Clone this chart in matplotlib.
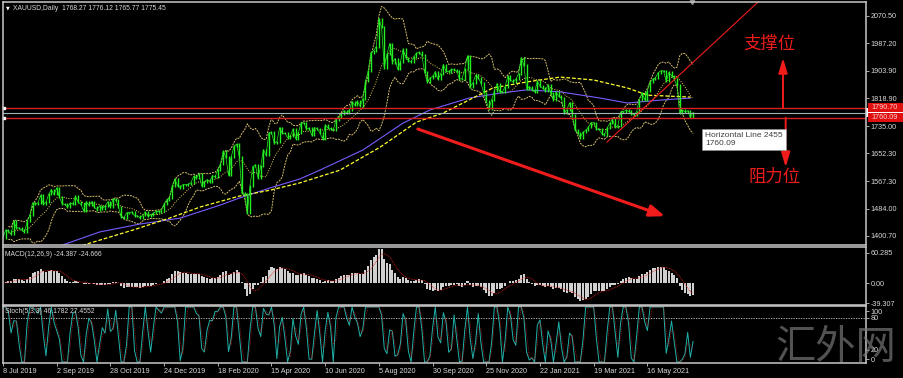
import matplotlib
matplotlib.use('Agg')
import matplotlib.pyplot as plt
from matplotlib.patches import Rectangle
import numpy as np
import pandas as pd

plt.rcParams['font.family'] = ['Liberation Sans', 'DejaVu Sans']

W, H = 904, 378
X0, X1 = 3, 866          # plot area left/right in pixels
BAR_PX = 1.3425          # pixels per daily bar
STEP = 2                 # bars between two samples

# closes, one every two daily bars, 8 Jul 2019 .. 1 Jul 2021
closes = [
    1396, 1419, 1415, 1406, 1445, 1425, 1425, 1419, 1412, 1445, 1464, 1502, 1497, 1502, 1524, 1497, 1503, 1527, 1542, 1527,
    1547, 1519, 1499, 1497, 1488, 1501, 1498, 1522, 1504, 1497, 1478, 1505, 1494, 1505, 1488, 1481, 1493, 1484, 1492, 1504,
    1488, 1513, 1510, 1490, 1459, 1456, 1471, 1472, 1474, 1462, 1462, 1456, 1463, 1474, 1460, 1465, 1470, 1476, 1475, 1478,
    1499, 1511, 1517, 1552, 1574, 1553, 1548, 1557, 1557, 1558, 1563, 1582, 1577, 1589, 1553, 1566, 1572, 1566, 1584, 1581,
    1602, 1620, 1658, 1641, 1585, 1641, 1673, 1680, 1642, 1530, 1528, 1471, 1554, 1612, 1617, 1577, 1614, 1663, 1646, 1714,
    1716, 1683, 1687, 1730, 1713, 1713, 1700, 1705, 1725, 1697, 1715, 1743, 1745, 1726, 1728, 1707, 1730, 1727, 1714, 1697,
    1738, 1730, 1727, 1722, 1754, 1761, 1771, 1781, 1775, 1783, 1809, 1798, 1810, 1796, 1817, 1871, 1902, 1958, 1964, 1976,
    2062, 2035, 1912, 1953, 1986, 1928, 1940, 1908, 1929, 1968, 1943, 1934, 1931, 1946, 1956, 1959, 1950, 1900, 1868, 1881,
    1886, 1900, 1877, 1893, 1922, 1902, 1900, 1907, 1905, 1902, 1878, 1879, 1910, 1949, 1854, 1866, 1889, 1882, 1866, 1837,
    1810, 1788, 1815, 1841, 1864, 1839, 1839, 1855, 1886, 1874, 1870, 1877, 1894, 1943, 1920, 1849, 1855, 1846, 1839, 1871,
    1856, 1850, 1843, 1860, 1835, 1814, 1838, 1825, 1820, 1775, 1784, 1806, 1770, 1724, 1715, 1700, 1716, 1722, 1731, 1745,
    1745, 1726, 1725, 1712, 1708, 1729, 1743, 1756, 1732, 1736, 1777, 1779, 1783, 1780, 1773, 1769, 1779, 1815, 1836, 1815,
    1843, 1868, 1877, 1882, 1897, 1903, 1903, 1871, 1898, 1888, 1877, 1859, 1774, 1783, 1779, 1781, 1761, 1776,
]

# long moving averages (bar index, price)
ma_slow_bars = [40, 72, 102, 132, 162, 176, 199, 221, 236, 268, 298, 318, 347, 370, 390, 415, 445, 465, 490, 512]
ma_slow_vals = [1367, 1413, 1437, 1455, 1495, 1516, 1547, 1574, 1601, 1662, 1744, 1784, 1820, 1835, 1845, 1839, 1820, 1805, 1814, 1820]
ma_fast_bars = [55, 97, 124, 147, 176, 199, 221, 251, 281, 308, 328, 347, 365, 390, 415, 440, 465, 480, 512]
ma_fast_vals = [1367, 1419, 1455, 1489, 1522, 1540, 1562, 1601, 1671, 1747, 1775, 1814, 1851, 1869, 1884, 1875, 1851, 1829, 1823]

date_labels = ['8 Jul 2019', '2 Sep 2019', '28 Oct 2019', '24 Dec 2019', '18 Feb 2020', '15 Apr 2020',
               '10 Jun 2020', '5 Aug 2020', '30 Sep 2020', '25 Nov 2020', '22 Jan 2021', '19 Mar 2021', '16 May 2021']
label_bars = [40 * i for i in range(len(date_labels))]

price_ticks = [2070.50, 1987.20, 1903.90, 1818.90, 1735.00, 1652.30, 1567.30, 1484.00, 1400.70]
macd_ticks = [60.285, 0.0, -39.307]
macd_tick_labels = ['60.285', '0.00', '-39.307']

level_hi, level_lo, bid = 1790.70, 1760.09, 1775.45

GREEN = '#22f022'
RED = '#f01c1c'
FRAME = '#c8c8c8'
TXT = '#d8d8d8'

fig = plt.figure(figsize=(W / 100, H / 100), dpi=100, facecolor='black')


def panel(y0, y1):
    ax = fig.add_axes([X0 / W, 1 - y1 / H, (X1 - X0) / W, (y1 - y0) / H])
    ax.set_facecolor('black')
    for s in ax.spines.values():
        s.set_color(FRAME)
        s.set_linewidth(1.1)
    ax.set_xlim(0, (X1 - X0) / BAR_PX)
    ax.yaxis.tick_right()
    ax.tick_params(axis='y', colors=FRAME, labelcolor=TXT, labelsize=5.2, length=2, width=0.6, pad=1.5)
    ax.tick_params(axis='x', bottom=False, labelbottom=False)
    return ax


ax = panel(1.7, 245.5)
ax_m = panel(246.5, 304.5)
ax_s = panel(305.5, 363)

s = pd.Series(closes, dtype=float)
xs = np.arange(len(closes)) * STEP

# ---- main price panel
ax.set_ylim(1371.8, 2113.1)
ax.set_yticks(price_ticks)
ax.set_yticklabels(['%.2f' % p for p in price_ticks])

mid = s.rolling(10, min_periods=3).mean()
sd = s.rolling(10, min_periods=3).std(ddof=0)
band = dict(color='#d8c070', lw=0.7, ls=(0, (2, 1)))
ax.plot(xs, mid + 2 * sd, **band)
ax.plot(xs, mid - 2 * sd, **band)
ax.plot(xs, mid, color='#e8d050', lw=0.7, ls=(0, (1, 1.5)))

ax.plot(ma_slow_bars, ma_slow_vals, color='#7a5cff', lw=0.8)
ax.plot(ma_fast_bars, ma_fast_vals, color='#ffff30', lw=0.9, ls=(0, (3, 1.5)))

c = s.values
ax.vlines(xs[1:], np.minimum(c[:-1], c[1:]) - 3, np.maximum(c[:-1], c[1:]) + 3, color=GREEN, lw=1.0)
ax.plot(xs, c, color=GREEN, lw=0.5)

ax.axhline(level_hi, color='#d82020', lw=1.0)
ax.axhline(level_lo, color='#d82020', lw=1.0)
ax.axhline(bid, color='#9fb4b4', lw=0.8)
ax.plot([0.6, 0.6], [level_hi, level_lo], ls='none', marker='s', ms=1.8, color='white', clip_on=False)

ytr = ax.get_yaxis_transform()
ax.add_patch(Rectangle((1.0, bid - 13), 0.044, 26, transform=ytr, fc='white', ec='none', clip_on=False))
for lv in (level_hi, level_lo):
    ax.add_patch(Rectangle((1.002, lv - 13.5), 0.042, 27, transform=ytr, fc='#e01010', ec='none',
                           clip_on=False, zorder=5))
    ax.text(1.006, lv, '%.2f' % lv, transform=ytr, ha='left', va='center', fontsize=5.2,
            color='#ffd0d0', zorder=6, clip_on=False)

# drawn objects
ax.plot([450, 564], [1686.6, 2118], color=RED, lw=0.8)
ax.annotate('', xy=(493, 1461), xytext=(309, 1726),
            arrowprops=dict(arrowstyle='-|>,head_length=0.9,head_width=0.35', color=RED, lw=2.2,
                            mutation_scale=10, shrinkA=0, shrinkB=0))
ax.annotate('', xy=(581, 1942), xytext=(581, level_hi),
            arrowprops=dict(arrowstyle='-|>,head_length=1.0,head_width=0.3', color=RED, lw=1.4,
                            mutation_scale=9, shrinkA=0, shrinkB=0))
ax.annotate('', xy=(583, 1610), xytext=(583, level_lo),
            arrowprops=dict(arrowstyle='-|>,head_length=1.0,head_width=0.3', color=RED, lw=1.4,
                            mutation_scale=9, shrinkA=0, shrinkB=0))
ax.text(570.6, 1984, '支撑位', color=RED, fontsize=12.5, ha='center', va='center',
        family=['Noto Sans CJK SC', 'DejaVu Sans'])
ax.text(575, 1580, '阻力位', color=RED, fontsize=12.5, ha='center', va='center',
        family=['Noto Sans CJK SC', 'DejaVu Sans'])

ax.text(523, 1718, 'Horizontal Line 2455\n1760.09', color='#404040', fontsize=6, ha='left', va='top',
        linespacing=1.35, bbox=dict(boxstyle='square,pad=0.35', fc='white', ec='#909090', lw=0.5))

ax.text(0.0035, 0.974, '▼', transform=ax.transAxes, fontsize=3.5, color='white', va='center',
        family=['DejaVu Sans'])
ax.text(0.0116, 0.974, 'XAUUSD,Daily  1768.27 1776.12 1765.77 1775.45', transform=ax.transAxes,
        fontsize=4.9, color=TXT, va='center')
ax.plot([513], [1.0], transform=ax.get_xaxis_transform(), marker='v', ms=3, color='#909090', clip_on=False)

# ---- MACD panel
ema_f = s.ewm(span=6, adjust=False).mean()
ema_s = s.ewm(span=13, adjust=False).mean()
macd = ema_f - ema_s
signal = macd.rolling(5, min_periods=1).mean()
ax_m.set_ylim(-42, 72.3)
ax_m.bar(xs, macd, width=1.5, color='#d0d0d0', linewidth=0)
ax_m.plot(xs, signal, color='#e02020', lw=0.6, ls=(0, (1, 1)))
ax_m.set_yticks(macd_ticks)
ax_m.set_yticklabels(macd_tick_labels)
ax_m.text(0.0025, 0.86, 'MACD(12,26,9) -24.387 -24.666', transform=ax_m.transAxes, fontsize=4.9,
          color=TXT, va='center')

# ---- Stochastic panel
lo = s.rolling(3, min_periods=1).min()
hi = s.rolling(3, min_periods=1).max()
num = (s - lo).rolling(2, min_periods=1).sum()
den = (hi - lo).rolling(2, min_periods=1).sum().replace(0, np.nan)
k = (100 * num / den).bfill().ffill()
d = k.rolling(2, min_periods=1).mean()
ax_s.set_ylim(-1.8, 102.7)
ax_s.axhline(80, color='#d0d0d0', lw=0.6, ls=(0, (1.5, 1.5)))
ax_s.plot(xs, k, color='#20b2aa', lw=0.7)
ax_s.plot(xs, d, color='#e02020', lw=0.5, ls=(0, (1, 1.5)))
# MT4 keeps the 100 / 0 labels inside the panel
ax_s.set_yticks([92.7, 80, 22, 5])
ax_s.set_yticklabels(['100', '80', '20', '0'])
ax_s.text(0.0025, 0.89, 'Stoch(5,3,3) 46.1782 27.4552', transform=ax_s.transAxes, fontsize=4.9,
          color=TXT, va='center')

ax_s.tick_params(axis='x', bottom=True, labelbottom=True, colors=FRAME, labelcolor=TXT,
                 labelsize=5.2, length=2, width=0.6, pad=1.5)
ax_s.set_xticks(label_bars)
ax_s.set_xticklabels(date_labels)
for lbl in ax_s.get_xticklabels():
    lbl.set_horizontalalignment('left')

fig.text(836 / W, 1 - 348 / H, '汇外网', fontsize=29, color='#767676', alpha=0.7,
         ha='center', va='center', family=['Noto Sans CJK SC', 'DejaVu Sans'])

fig.savefig('out.png', dpi=100, facecolor='black')
